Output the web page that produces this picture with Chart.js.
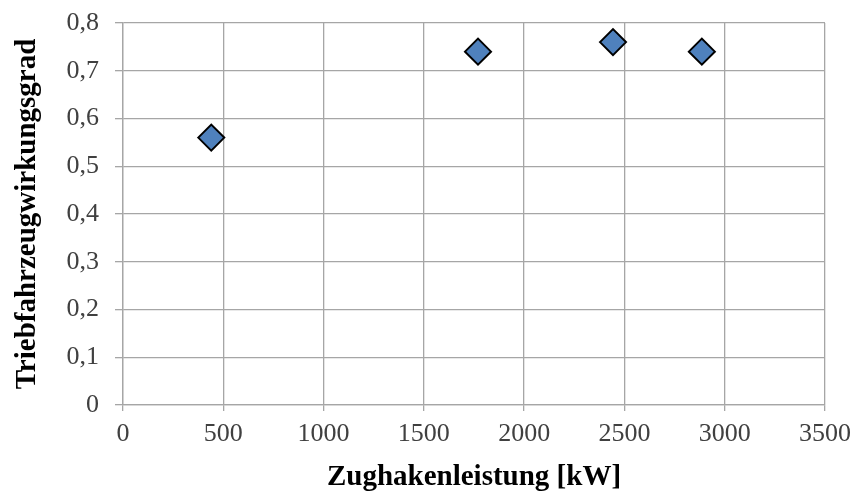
<!DOCTYPE html>
<html>
<head>
<meta charset="utf-8">
<script src="https://cdn.jsdelivr.net/npm/chart.js@4/dist/chart.umd.min.js"></script>
<style>
html,body{margin:0;padding:0;background:#fff;}
#wrap{width:857px;height:495px;position:relative;}
</style>
</head>
<body>
<div id="wrap"><canvas id="c" width="857" height="495"></canvas></div>
<script>
const powerKW = [440, 1770, 2443, 2886];
const efficiency = [0.56, 0.74, 0.76, 0.74];
const xTitle = 'Zughakenleistung [kW]';
const yTitle = 'Triebfahrzeugwirkungsgrad';

const points = powerKW.map((x, i) => ({x: x, y: efficiency[i]}));
const serif = "'Liberation Serif', 'DejaVu Serif', serif";

new Chart(document.getElementById('c'), {
  type: 'scatter',
  data: {
    datasets: [{
      data: points,
      pointStyle: 'rectRot',
      pointRadius: 13,
      pointHoverRadius: 13,
      backgroundColor: '#4F81BD',
      borderColor: '#000000',
      borderWidth: 2
    }]
  },
  options: {
    responsive: false,
    animation: false,
    events: [],
    layout: {padding: {top: 23, right: 32, left: 6, bottom: 0}},
    plugins: {legend: {display: false}, tooltip: {enabled: false}},
    scales: {
      x: {
        type: 'linear',
        min: 0, max: 3500,
        afterFit: s => { s.height = 90; s.paddingLeft = 0; s.paddingRight = 0; },
        ticks: {stepSize: 500, color: '#404040', font: {family: serif, size: 26}, padding: 8, maxRotation: 0,
          callback: v => String(v)},
        grid: {color: '#a6a6a6', lineWidth: 1.3, tickLength: 6},
        border: {color: '#a6a6a6', width: 1.3},
        title: {display: true, text: xTitle, color: '#000', font: {family: serif, size: 29, weight: 'bold'}, padding: {top: 0, bottom: 0}}
      },
      y: {
        type: 'linear',
        min: 0, max: 0.8,
        afterFit: s => { s.width = 117; s.paddingTop = 0; s.paddingBottom = 0; },
        ticks: {stepSize: 0.1, color: '#404040', font: {family: serif, size: 26}, padding: 16,
          callback: v => (Math.abs(v) < 1e-9 ? '0' : v.toFixed(1).replace('.', ','))},
        grid: {color: '#a6a6a6', lineWidth: 1.3, tickLength: 8},
        border: {color: '#a6a6a6', width: 1.3},
        title: {display: true, text: yTitle, color: '#000', font: {family: serif, size: 29, weight: 'bold'}, padding: {top: 4, bottom: 0}}
      }
    }
  }
});
</script>
</body>
</html>
